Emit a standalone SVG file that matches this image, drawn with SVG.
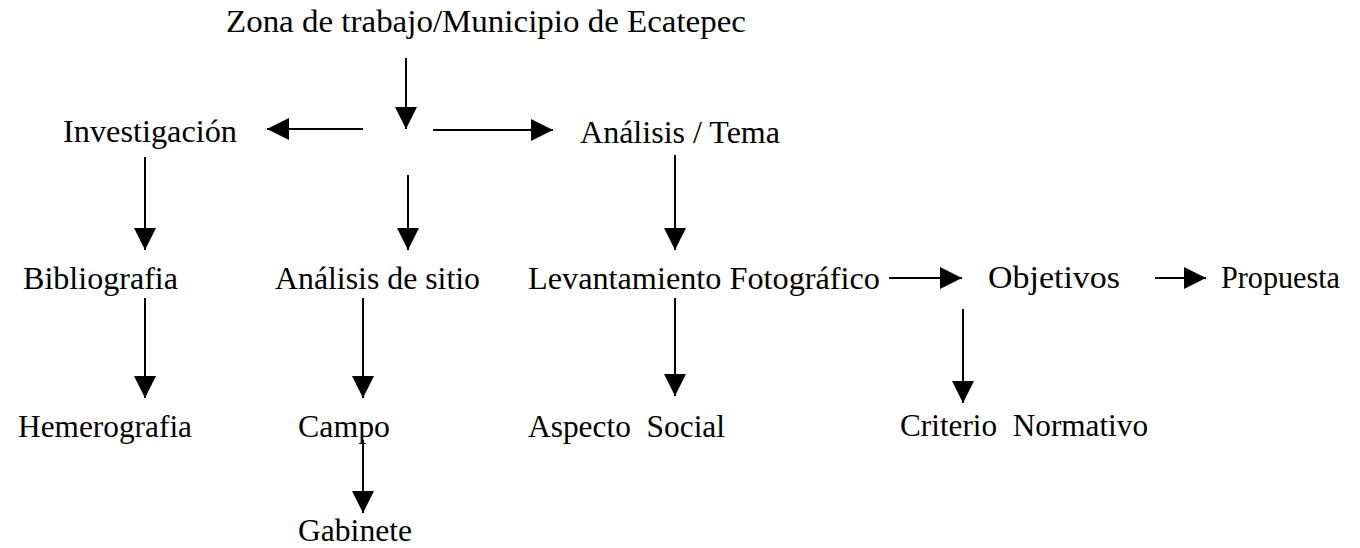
<svg xmlns="http://www.w3.org/2000/svg" width="1360" height="548" viewBox="0 0 1360 548">
<style>
text{font-family:"Liberation Serif","Times New Roman",serif;font-size:32px;fill:#000}
.c line{stroke:#000;stroke-width:2;fill:none}
</style>
<defs>
<marker id="ah" markerUnits="userSpaceOnUse" markerWidth="22" markerHeight="22" viewBox="0 0 20 20" refX="20" refY="10" orient="auto">
<path d="M0,0 L20,10 L0,20 Z" fill="#000"/>
</marker>
</defs>
<rect width="1360" height="548" fill="#fff"/>
<g id="n-zona"><text x="226" y="32" textLength="520" lengthAdjust="spacingAndGlyphs">Zona de trabajo/Municipio de Ecatepec</text></g>
<g id="n-investigacion"><text x="63" y="142" textLength="174" lengthAdjust="spacingAndGlyphs">Investigación</text></g>
<g id="n-analisis-tema"><text x="580" y="143" textLength="200" lengthAdjust="spacingAndGlyphs">Análisis / Tema</text></g>
<g id="n-bibliografia"><text x="23" y="289" textLength="155" lengthAdjust="spacingAndGlyphs">Bibliografia</text></g>
<g id="n-analisis-sitio"><text x="275" y="289" textLength="205" lengthAdjust="spacingAndGlyphs">Análisis de sitio</text></g>
<g id="n-levantamiento"><text x="528" y="289" textLength="352" lengthAdjust="spacingAndGlyphs">Levantamiento Fotográfico</text></g>
<g id="n-objetivos"><text x="988" y="288" textLength="132" lengthAdjust="spacingAndGlyphs">Objetivos</text></g>
<g id="n-propuesta"><text x="1221" y="288" textLength="119" lengthAdjust="spacingAndGlyphs">Propuesta</text></g>
<g id="n-hemerografia"><text x="18" y="437" textLength="174" lengthAdjust="spacingAndGlyphs">Hemerografia</text></g>
<g id="n-campo"><text x="298" y="437" textLength="92" lengthAdjust="spacingAndGlyphs">Campo</text></g>
<g id="n-aspecto"><text x="528" y="437" textLength="197" lengthAdjust="spacingAndGlyphs" xml:space="preserve">Aspecto  Social</text></g>
<g id="n-criterio"><text x="900" y="436" textLength="248" lengthAdjust="spacingAndGlyphs" xml:space="preserve">Criterio  Normativo</text></g>
<g id="n-gabinete"><text x="298" y="541" textLength="114" lengthAdjust="spacingAndGlyphs">Gabinete</text></g>
<g id="connectors" class="c">
<line x1="406" y1="58" x2="406" y2="129" marker-end="url(#ah)"/>
<line x1="363" y1="129" x2="267" y2="129" marker-end="url(#ah)"/>
<line x1="433" y1="130" x2="553" y2="130" marker-end="url(#ah)"/>
<line x1="145" y1="157" x2="145" y2="250" marker-end="url(#ah)"/>
<line x1="408" y1="175" x2="408" y2="250" marker-end="url(#ah)"/>
<line x1="675" y1="155" x2="675" y2="250" marker-end="url(#ah)"/>
<line x1="145" y1="298" x2="145" y2="398" marker-end="url(#ah)"/>
<line x1="363" y1="298" x2="363" y2="398" marker-end="url(#ah)"/>
<line x1="675" y1="298" x2="675" y2="396" marker-end="url(#ah)"/>
<line x1="889" y1="278" x2="962" y2="278" marker-end="url(#ah)"/>
<line x1="1155" y1="278" x2="1206" y2="278" marker-end="url(#ah)"/>
<line x1="963" y1="309" x2="963" y2="403" marker-end="url(#ah)"/>
<line x1="363" y1="440" x2="363" y2="513" marker-end="url(#ah)"/>
</g>
</svg>
